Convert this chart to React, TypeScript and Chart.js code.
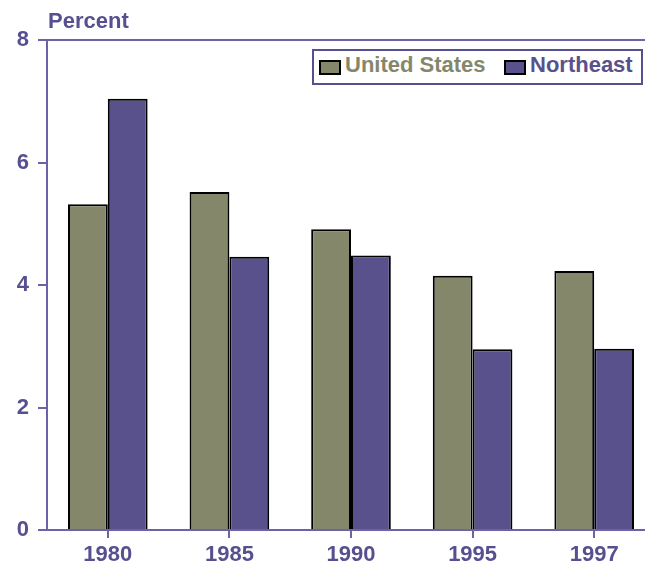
import React, { useEffect, useRef } from 'react';
import { Chart, registerables } from 'chart.js';

Chart.register(...registerables);

const categories = ['1980', '1985', '1990', '1995', '1997'];
const unitedStates = [5.32, 5.52, 4.91, 4.15, 4.23];
const northeast = [7.04, 4.46, 4.48, 2.95, 2.96];
const seriesNames = ['United States', 'Northeast'];
const yMax = 8;
const yStep = 2;

const OLIVE = '#85876a';
const PURPLE = '#59518c';
const TEXT = '#565090';
const AXIS = '#6a64a6';
const FONT = '"Liberation Sans", Arial, sans-serif';

export default function App() {
  const canvasRef = useRef<HTMLCanvasElement | null>(null);

  useEffect(() => {
    if (!canvasRef.current) return;
    const chart = new Chart(canvasRef.current, {
      type: 'bar',
      data: {
        labels: categories,
        datasets: [
          {
            label: seriesNames[0],
            data: unitedStates,
            backgroundColor: OLIVE,
            borderColor: '#000000',
            borderWidth: 2,
            categoryPercentage: 0.655,
            barPercentage: 1,
          },
          {
            label: seriesNames[1],
            data: northeast,
            backgroundColor: PURPLE,
            borderColor: '#000000',
            borderWidth: 2,
            categoryPercentage: 0.655,
            barPercentage: 1,
          },
        ],
      },
      options: {
        animation: false,
        responsive: true,
        maintainAspectRatio: false,
        layout: { padding: { top: 40, left: 0, right: 0, bottom: 0 } },
        plugins: {
          legend: { display: false },
          tooltip: { enabled: false },
          title: { display: false },
        },
        scales: {
          x: {
            type: 'category',
            offset: true,
            grid: {
              offset: false,
              drawOnChartArea: false,
              color: AXIS,
              tickColor: AXIS,
              tickLength: 8,
              lineWidth: 2,
            },
            border: { color: AXIS, width: 2 },
            ticks: {
              color: TEXT,
              font: { family: FONT, size: 22, weight: 'bold' },
              padding: 4,
              maxRotation: 0,
            },
            afterFit: (s: any) => {
              s.height = 34;
            },
          },
          y: {
            min: 0,
            max: yMax,
            ticks: {
              stepSize: yStep,
              color: TEXT,
              font: { family: FONT, size: 22, weight: 'bold' },
              padding: 9,
            },
            grid: {
              color: (ctx: any) => (ctx.tick && ctx.tick.value === yMax ? AXIS : 'rgba(0,0,0,0)'),
              tickColor: AXIS,
              tickLength: 9,
              lineWidth: 2,
            },
            border: { color: AXIS, width: 2 },
            afterFit: (s: any) => {
              s.width = 47;
            },
          },
        },
      },
    });
    return () => chart.destroy();
  }, []);

  const legendText: React.CSSProperties = {
    position: 'absolute',
    top: 3,
    fontFamily: FONT,
    fontWeight: 'bold',
    fontSize: 22,
    lineHeight: '22px',
    whiteSpace: 'nowrap',
  };
  const swatch: React.CSSProperties = {
    position: 'absolute',
    top: 9,
    width: 22,
    height: 15,
    border: '2px solid #000',
    boxSizing: 'border-box',
  };

  return (
    <div style={{ position: 'fixed', left: 0, top: 0, width: 655, height: 564, background: '#fff' }}>
      <canvas ref={canvasRef} />
      <div
        style={{
          position: 'absolute',
          left: 48,
          top: 10,
          fontFamily: FONT,
          fontWeight: 'bold',
          fontSize: 22,
          lineHeight: '22px',
          color: TEXT,
        }}
      >
        Percent
      </div>
      <div
        style={{
          position: 'absolute',
          left: 312,
          top: 49,
          width: 331,
          height: 36,
          border: `2px solid ${TEXT}`,
          boxSizing: 'border-box',
          background: '#fff',
        }}
      >
        <div style={{ ...swatch, left: 5, background: OLIVE }} />
        <div style={{ ...legendText, left: 31, color: OLIVE }}>{seriesNames[0]}</div>
        <div style={{ ...swatch, left: 190, background: PURPLE }} />
        <div style={{ ...legendText, left: 216, color: PURPLE }}>{seriesNames[1]}</div>
      </div>
    </div>
  );
}
